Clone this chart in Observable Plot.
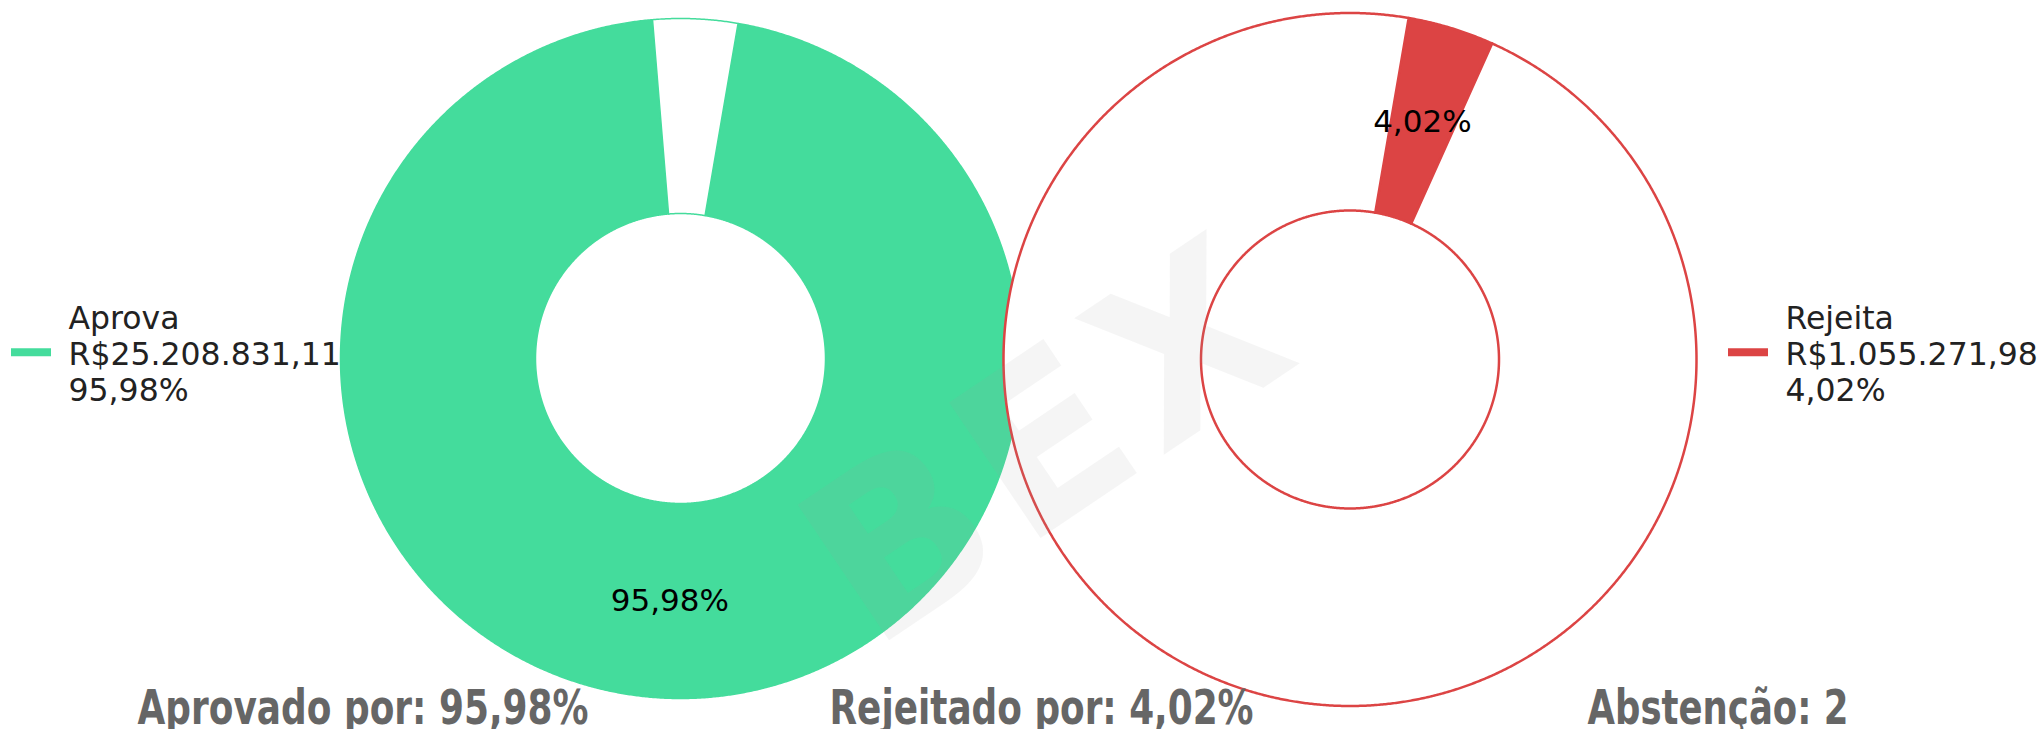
<!DOCTYPE html>
<html>
<head>
<meta charset="utf-8">
<script src="https://cdn.jsdelivr.net/npm/d3@7"></script>
<script src="https://cdn.jsdelivr.net/npm/@observablehq/plot@0.6"></script>
<style>
  html, body { margin: 0; padding: 0; background: #fff; }
  svg { display: block; }
</style>
</head>
<body>
<div id="chart"></div>
<script>
// ---------- data ----------
const categories = ["Aprova", "Rejeita"];
const amounts = [25208831.11, 1055271.98];
const percents = [95.98, 4.02];
const colors = ["#44dc9c", "#dc4444"];
const abstentions = 2;
const summaryPrefixes = ["Aprovado por: ", "Rejeitado por: ", "Abstenção: "];
const watermark = "BEX";

// ---------- layout ----------
const W = 2043, H = 729;
const locale = d3.formatLocale({decimal: ",", thousands: ".", grouping: [3], currency: ["R$", ""]});
const money = locale.format("$,.2f");
const pct = locale.format(",.2f");

const startAngle = 9.75 * Math.PI / 180;
const donuts = [
  {id: "L", cx: 680, cy: 358, r0: 145, r1: 340, order: [0, 1], fills: [colors[0], "#ffffff"], stroke: colors[0], sw: 1.5},
  {id: "R", cx: 1349.5, cy: 359, r0: 149, r1: 346.5, order: [1, 0], fills: [colors[1], "#ffffff"], stroke: colors[1], sw: 2.5}
];

const pt = (d, r, a) => ({x: d.cx + r * Math.sin(a), y: d.cy - r * Math.cos(a)});

function donutGeometry(d) {
  const pie = d3.pie().sort(null).value(i => percents[i])
    .startAngle(startAngle).endAngle(startAngle + 2 * Math.PI);
  const arcs = pie(d.order);
  const pts = [];
  arcs.forEach((arc, j) => {
    const a0 = arc.startAngle, a1 = arc.endAngle;
    const n = Math.max(2, Math.ceil((a1 - a0) / (Math.PI / 720)));
    const poly = [];
    for (let i = 0; i <= n; i++) poly.push(pt(d, d.r1, a0 + (a1 - a0) * i / n));
    for (let i = n; i >= 0; i--) poly.push(pt(d, d.r0, a0 + (a1 - a0) * i / n));
    poly.push({...poly[0]});
    poly.forEach(p => pts.push({...p, id: d.id + j, fill: d.fills[j], stroke: d.stroke}));
  });
  const main = arcs[0];
  const mid = (main.startAngle + main.endAngle) / 2;
  const label = {...pt(d, (d.r0 + d.r1) / 2, mid), text: pct(percents[main.data]) + "%"};
  return {pts, label};
}

const geoms = donuts.map(donutGeometry);

// legends
const legendSwatchX1 = [11, 1728], legendSwatchX2 = [51, 1768], legendTextX = [68, 1785];
const legendSwatchY = 351.7, legendFont = 31.5, legendLH = 36.5 / 31.5;
const legendTextY = 364.5 - 0.32 * legendLH * legendFont;
const legendData = categories.map((c, i) => ({
  i, text: `${c}\n${money(amounts[i])}\n${pct(percents[i])}%`
}));

// bottom summary
const summaryTexts = [
  summaryPrefixes[0] + pct(percents[0]) + "%",
  summaryPrefixes[1] + pct(percents[1]) + "%",
  summaryPrefixes[2] + abstentions
];
const summaryX = [137, 829, 1587];
const summaryW = [451, 424, 261];
const summaryY = 723.3;

const plot = Plot.plot({
  width: W,
  height: H,
  margin: 0,
  x: {domain: [0, W], range: [0, W], axis: null},
  y: {domain: [0, H], range: [0, H], axis: null},
  color: {type: "identity"},
  style: {background: "#fff"},
  marks: [
    // legend swatches
    Plot.ruleY(legendData, {
      y: () => legendSwatchY,
      x1: d => legendSwatchX1[d.i], x2: d => legendSwatchX2[d.i],
      stroke: d => colors[d.i], strokeWidth: 8
    }),
    // legend texts
    Plot.text(legendData, {
      x: d => legendTextX[d.i], y: () => legendTextY, text: "text",
      textAnchor: "start", lineAnchor: "middle", lineHeight: legendLH,
      fontSize: legendFont, fontFamily: "DejaVu Sans", fill: "#222"
    }),
    // donuts
    ...geoms.map((g, k) => Plot.line(g.pts, {
      x: "x", y: "y", z: "id", fill: "fill", stroke: "stroke",
      strokeWidth: donuts[k].sw, curve: "linear", strokeLinejoin: "round"
    })),
    // slice labels
    Plot.text(geoms.map(g => g.label), {
      x: "x", y: "y", text: "text", fontSize: 31, fontFamily: "DejaVu Sans",
      fill: "#000", textAnchor: "middle", lineAnchor: "middle"
    }),
    // watermark
    Plot.text([watermark], {
      x: () => 1052, y: () => 443, text: d => d, rotate: -34,
      fontSize: 224, fontWeight: "bold", fontFamily: "DejaVu Sans",
      fill: "#a1a1a1", fillOpacity: 0.106, textAnchor: "middle", lineAnchor: "middle"
    }),
    // bottom summary
    Plot.text(summaryTexts, {
      x: (d, i) => summaryX[i], y: () => summaryY, text: d => d,
      textAnchor: "start", lineAnchor: "bottom",
      fontSize: 48, fontWeight: "bold", fontFamily: "DejaVu Sans", fill: "#666"
    })
  ]
});

document.getElementById("chart").appendChild(plot);

// squeeze the summary texts horizontally to match the reference widths
d3.select(plot).selectAll("text").each(function() {
  const t = this.textContent;
  const i = summaryTexts.indexOf(t);
  if (i >= 0) {
    this.setAttribute("textLength", summaryW[i]);
    this.setAttribute("lengthAdjust", "spacingAndGlyphs");
  }
  if (t === watermark) this.style.letterSpacing = "12px";
});
</script>
</body>
</html>
